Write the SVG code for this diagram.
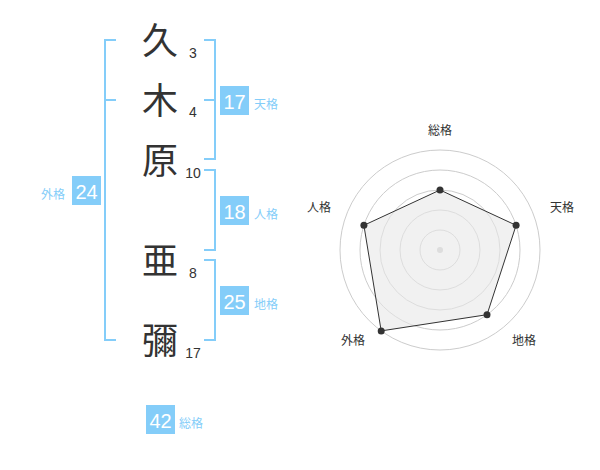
<svg xmlns="http://www.w3.org/2000/svg" width="600" height="470" viewBox="0 0 600 470">
<style>
.br{fill:none;stroke:#84cdf9;stroke-width:2}
.kanji{font-family:"Noto Sans CJK JP","Noto Sans CJK SC",sans-serif;font-size:36px;fill:#333;text-anchor:middle}
.stroke{font-family:"Liberation Sans",Arial,sans-serif;font-size:14px;fill:#333;text-anchor:middle}
.box{fill:#84cdf9}
.num{font-family:"Liberation Sans",Arial,sans-serif;font-size:20px;fill:#fff;text-anchor:middle}
.lbl{font-family:"Noto Sans CJK JP","Noto Sans CJK SC",sans-serif;font-size:12px;fill:#84cdf9}
.rl{font-family:"Noto Sans CJK JP","Noto Sans CJK SC",sans-serif;font-size:12px;fill:#333;text-anchor:middle}
.ring{fill:none;stroke:#ccc;stroke-width:1}
.pt{fill:#333}
</style>
<g id="chars">
<text class="kanji" x="160" y="54">久</text>
<text class="kanji" x="160" y="114">木</text>
<text class="kanji" x="160" y="174">原</text>
<text class="kanji" x="160" y="274">亜</text>
<text class="kanji" x="160" y="354">彌</text>
<text class="stroke" x="193" y="58">3</text>
<text class="stroke" x="193" y="117">4</text>
<text class="stroke" x="193" y="178">10</text>
<text class="stroke" x="193" y="278">8</text>
<text class="stroke" x="193" y="358">17</text>
</g>
<g id="connectors">
<path class="br" d="M116,40 H105 V340 H116 M105,100 H116"/>
<path class="br" d="M204,40 H215 V159 H204 M204,100 H215"/>
<path class="br" d="M204,170 H215 V250 H204"/>
<path class="br" d="M204,260 H215 V340 H204"/>
</g>
<g id="tenkaku">
<rect class="box" x="220" y="86" width="29" height="29"/>
<text class="num" x="234.5" y="109">17</text>
<text class="lbl" x="254" y="109">天格</text>
</g>
<g id="jinkaku">
<rect class="box" x="220" y="196" width="29" height="29"/>
<text class="num" x="234.5" y="219">18</text>
<text class="lbl" x="254" y="219">人格</text>
</g>
<g id="chikaku">
<rect class="box" x="220" y="286" width="29" height="29"/>
<text class="num" x="234.5" y="309">25</text>
<text class="lbl" x="254" y="309">地格</text>
</g>
<g id="gaikaku">
<rect class="box" x="72" y="176" width="29" height="29"/>
<text class="num" x="86.5" y="199">24</text>
<text class="lbl" x="41" y="199">外格</text>
</g>
<g id="soukaku">
<rect class="box" x="146" y="405" width="29" height="29"/>
<text class="num" x="160.5" y="428">42</text>
<text class="lbl" x="179" y="428">総格</text>
</g>
<g id="radar">
<circle class="ring" cx="440" cy="250" r="20"/>
<circle class="ring" cx="440" cy="250" r="40"/>
<circle class="ring" cx="440" cy="250" r="60"/>
<circle class="ring" cx="440" cy="250" r="80"/>
<circle class="ring" cx="440" cy="250" r="100"/>
<circle cx="440" cy="250" r="3" fill="#ccc"/>
<polygon points="440,190 516.1,225.3 487,314.7 381.2,330.9 363.9,225.3" fill="#e8e8e8" fill-opacity="0.6" stroke="#333" stroke-width="1"/>
<circle class="pt" cx="440" cy="190" r="3.5"/>
<circle class="pt" cx="516.1" cy="225.3" r="3.5"/>
<circle class="pt" cx="487" cy="314.7" r="3.5"/>
<circle class="pt" cx="381.2" cy="330.9" r="3.5"/>
<circle class="pt" cx="363.9" cy="225.3" r="3.5"/>
<text class="rl" x="440" y="135">総格</text>
<text class="rl" x="562" y="212">天格</text>
<text class="rl" x="524" y="345">地格</text>
<text class="rl" x="353" y="345">外格</text>
<text class="rl" x="319" y="212">人格</text>
</g>
</svg>
